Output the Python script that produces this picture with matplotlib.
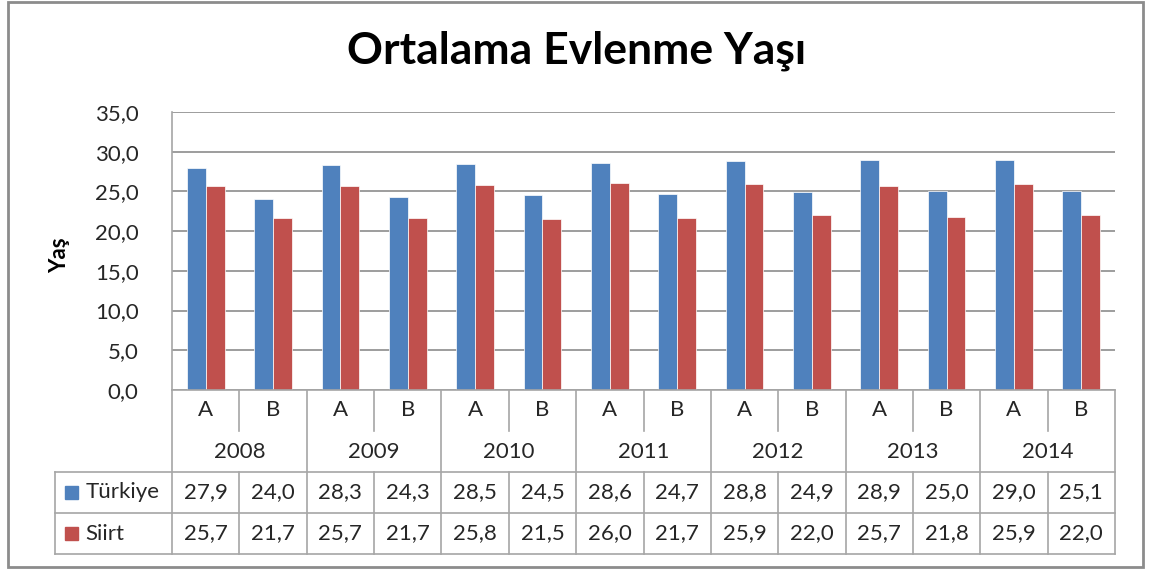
import numpy as np
import matplotlib.pyplot as plt
from matplotlib.patches import Rectangle

plt.rcParams['font.family'] = ['Lato', 'DejaVu Sans']

years = ["2008", "2009", "2010", "2011", "2012", "2013", "2014"]
groups = ["A", "B"]
turkiye = [27.9, 24.0, 28.3, 24.3, 28.5, 24.5, 28.6, 24.7, 28.8, 24.9, 28.9, 25.0, 29.0, 25.1]
siirt = [25.7, 21.7, 25.7, 21.7, 25.8, 21.5, 26.0, 21.7, 25.9, 22.0, 25.7, 21.8, 25.9, 22.0]
series_names = ["Türkiye", "Siirt"]
colors = ["#4F81BD", "#C0504D"]

W, H = 1152, 569
text_col = "#262626"
line_col = "#a6a6a6"


def fx(px):
    return px / W


def fy(py):
    return 1 - py / H


fig = plt.figure(figsize=(W / 100, H / 100), dpi=100)

# outer frame
fig.patches.append(Rectangle((fx(8), fy(567)), fx(1143) - fx(8), fy(2) - fy(567),
                             transform=fig.transFigure, fill=False, edgecolor="#8c8c8c", lw=2))

left, right, top, bottom = 172, 1115, 112, 390
ax = fig.add_axes([fx(left), fy(bottom), fx(right) - fx(left), fy(top) - fy(bottom)])

n = len(turkiye)
x = np.arange(n) + 0.5
w = 0.28
ax.bar(x - w / 2, turkiye, w, color=colors[0], edgecolor="white", linewidth=0.5)
ax.bar(x + w / 2, siirt, w, color=colors[1], edgecolor="white", linewidth=0.5)

ax.set_xlim(0, n)
ax.set_ylim(0, 35)
ax.set_yticks(np.arange(0, 36, 5))
ax.set_yticklabels([f"{v:.1f}".replace(".", ",") for v in np.arange(0, 36, 5)],
                   fontsize=16, color=text_col)
ax.tick_params(axis="y", length=0, pad=24)
ax.set_xticks([])
ax.grid(axis="y", color="#8c8c8c", lw=1.2)
ax.set_axisbelow(True)
for s in ["top", "right"]:
    ax.spines[s].set_visible(False)
ax.spines["left"].set_color(line_col)
ax.spines["bottom"].set_color(line_col)
ax.spines["left"].set_linewidth(1.2)
ax.spines["bottom"].set_linewidth(1.2)

fig.text(fx(60), fy(255), "Yaş", rotation=90, fontsize=16, fontweight="bold",
         ha="center", va="center", color="black")
fig.text(fx(577), fy(51), "Ortalama Evlenme Yaşı", fontsize=32, fontweight="bold",
         ha="center", va="center", color="black")

# data table under the axis
tb = fig.add_axes([fx(left), fy(554), fx(right) - fx(left), fy(bottom) - fy(554)])
tb.set_xlim(0, n)
tb.set_ylim(4, 0)
tb.axis("off")
legx = (55 - left) / ((right - left) / n)
lk = dict(color=line_col, lw=1.2, clip_on=False)

for i in range(n + 1):
    if i % 2 == 0:
        tb.plot([i, i], [0, 4], **lk)
    else:
        tb.plot([i, i], [0, 1], **lk)
        tb.plot([i, i], [2, 4], **lk)
tb.plot([legx, legx], [2, 4], **lk)
for r in [2, 3, 4]:
    tb.plot([legx, n], [r, r], **lk)

for i in range(n):
    tb.text(i + 0.5, 0.5, groups[i % 2], ha="center", va="center", fontsize=16, color=text_col)
    tb.text(i + 0.5, 2.5, f"{turkiye[i]:.1f}".replace(".", ","), ha="center", va="center",
            fontsize=16, color=text_col)
    tb.text(i + 0.5, 3.5, f"{siirt[i]:.1f}".replace(".", ","), ha="center", va="center",
            fontsize=16, color=text_col)
for j, yr in enumerate(years):
    tb.text(2 * j + 1, 1.5, yr, ha="center", va="center", fontsize=16, color=text_col)

for k, name in enumerate(series_names):
    yc = 2.5 + k
    fig.patches.append(Rectangle((fx(65), fy(472 + 41 * k + 27)), fx(13), 13 / H,
                                 transform=fig.transFigure, color=colors[k]))
    tb.text(legx + 0.45, yc, name, ha="left", va="center", fontsize=16, color=text_col)

fig.savefig("out.png", dpi=100)
